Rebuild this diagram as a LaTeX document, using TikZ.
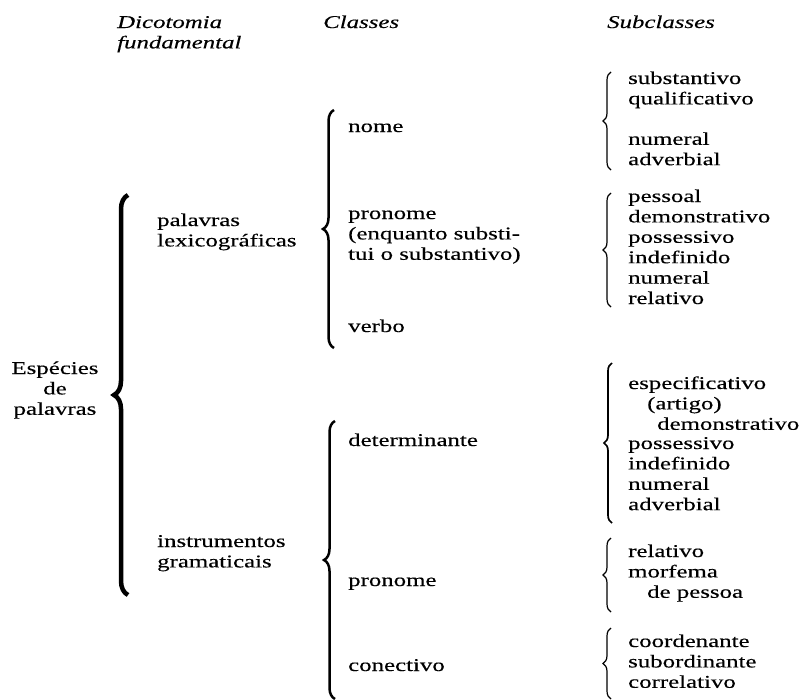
\documentclass[tikz,border=0pt]{standalone}
\usepackage{fontspec}
\setmainfont[FakeStretch=1.38, FakeBold=0.3]{Liberation Serif}
\usetikzlibrary{positioning}
\usetikzlibrary{decorations.pathreplacing}

\begin{document}
\begin{tikzpicture}[
    x=1pt,
    y=-1pt,
    node distance=4pt,
    font=\fontsize{18}{20}\selectfont
]
\tikzstyle{word}=[anchor=west, inner sep=0pt, text height=12pt, text depth=4pt]
\tikzstyle{head}=[word, font=\fontsize{18}{20}\selectfont\itshape]
\tikzstyle{bigbrace}=[decorate, decoration={brace, amplitude=14pt}, line width=4.5pt]
\tikzstyle{midbrace}=[decorate, decoration={brace, amplitude=11pt}, line width=2.5pt]
\tikzstyle{smallbrace}=[decorate, decoration={brace, amplitude=8pt}, line width=1.2pt]

\useasboundingbox (0,0) rectangle (806,699);

% Headings
\node[head] (dic1) at (117,24) {Dicotomia};
\node[head, below right=4pt and 0pt of dic1.south west] (dic2) {fundamental};
\node[head] (cls) at (323,24) {Classes};
\node[head] (sub) at (607,24) {Subclasses};

% Root
\node[word, anchor=center] (esp1) at (55,370) {Espécies};
\node[word, below=of esp1] (esp2) {de};
\node[word, below=of esp2] (esp3) {palavras};

\coordinate (bigtop) at (128,195);
\coordinate (bigbot) at (128,595);
\draw[bigbrace] (bigbot) -- (bigtop);

% Fundamental dichotomy
\node[word] (lex1) at (157,222) {palavras};
\node[word, below right=4pt and 0pt of lex1.south west] (lex2) {lexicográficas};
\node[word] (ins1) at (157,543) {instrumentos};
\node[word, below right=4pt and 0pt of ins1.south west] (ins2) {gramaticais};

\coordinate (lextop) at (334,110);
\coordinate (lexbot) at (334,348);
\draw[midbrace] (lexbot) -- (lextop);
\coordinate (instop) at (335,421);
\coordinate (insbot) at (335,699);
\draw[midbrace] (insbot) -- (instop);

% Classes
\node[word] (nome) at (348,128) {nome};
\node[word] (pron1) at (348,215) {pronome};
\node[word, below right=4pt and 0pt of pron1.south west] (pron2) {(enquanto substi-};
\node[word, below right=4pt and 0pt of pron2.south west] (pron3) {tui o substantivo)};
\node[word] (verbo) at (348,328) {verbo};
\node[word] (det) at (348,442) {determinante};
\node[word] (pron4) at (348,582) {pronome};
\node[word] (conect) at (348,667) {conectivo};

% Subclass braces
\coordinate (nometop) at (611,72);
\coordinate (nomebot) at (611,170);
\draw[smallbrace] (nomebot) -- (nometop);
\coordinate (prontop) at (611,193);
\coordinate (pronbot) at (611,307);
\draw[smallbrace] (pronbot) -- (prontop);
\coordinate (dettop) at (612,363);
\coordinate (detbot) at (612,523);
\draw[smallbrace, line width=1.7pt] (detbot) -- (dettop);
\coordinate (reltop) at (611,538);
\coordinate (relbot) at (611,612);
\draw[smallbrace] (relbot) -- (reltop);
\coordinate (contop) at (611,628);
\coordinate (conbot) at (611,699);
\draw[smallbrace] (conbot) -- (contop);

% Subclasses of nome
\node[word] (subst) at (628,80) {substantivo};
\node[word, below right=4pt and 0pt of subst.south west] (qual) {qualificativo};
\node[word, below right=24pt and 0pt of qual.south west] (num1) {numeral};
\node[word, below right=4pt and 0pt of num1.south west] (adv1) {adverbial};

% Subclasses of pronome
\node[word] (pess) at (628,198) {pessoal};
\node[word, below right=4pt and 0pt of pess.south west] (dem1) {demonstrativo};
\node[word, below right=4pt and 0pt of dem1.south west] (poss1) {possessivo};
\node[word, below right=4pt and 0pt of poss1.south west] (ind1) {indefinido};
\node[word, below right=4pt and 0pt of ind1.south west] (num2) {numeral};
\node[word, below right=4pt and 0pt of num2.south west] (rel1) {relativo};

% Subclasses of determinante
\node[word] (espec) at (628,385) {especificativo};
\node[word, below right=4pt and 19pt of espec.south west] (art) {(artigo)};
\node[word, below right=4pt and 10pt of art.south west] (dem2) {demonstrativo};
\node[word] (poss2) at (628,445) {possessivo};
\node[word, below right=4pt and 0pt of poss2.south west] (ind2) {indefinido};
\node[word, below right=4pt and 0pt of ind2.south west] (num3) {numeral};
\node[word, below right=4pt and 0pt of num3.south west] (adv2) {adverbial};

% Subclasses of pronome (instrumento)
\node[word] (rel2) at (628,553) {relativo};
\node[word, below right=4pt and 0pt of rel2.south west] (morf) {morfema};
\node[word, below right=4pt and 19pt of morf.south west] (pess2) {de pessoa};

% Subclasses of conectivo
\node[word] (coord) at (628,643) {coordenante};
\node[word, below right=4pt and 0pt of coord.south west] (subord) {subordinante};
\node[word, below right=4pt and 0pt of subord.south west] (correl) {correlativo};

\end{tikzpicture}
\end{document}
